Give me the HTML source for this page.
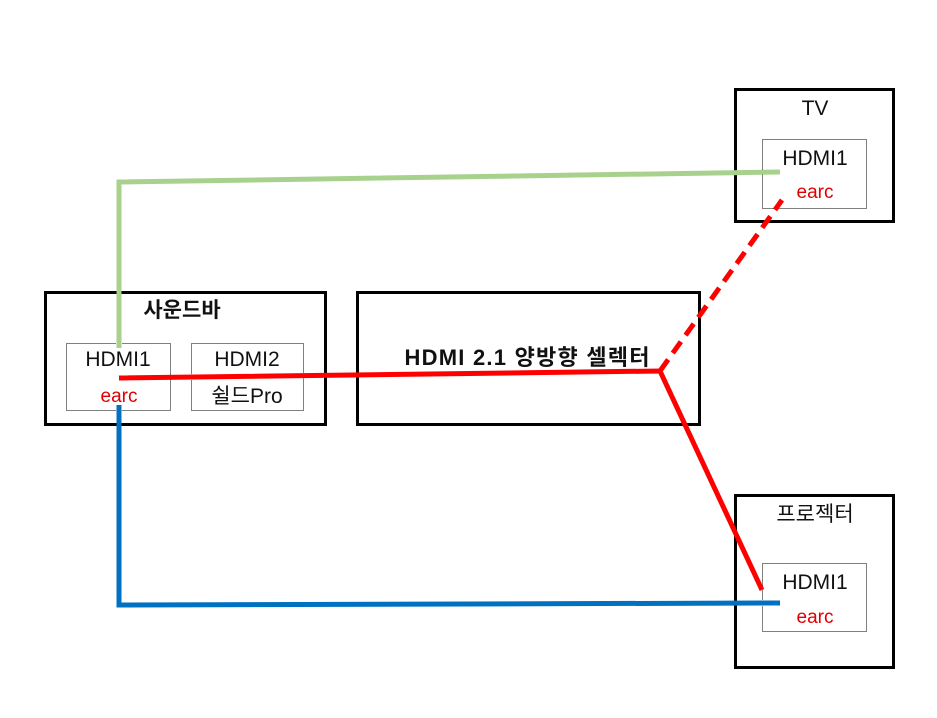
<!DOCTYPE html>
<html><head><meta charset="utf-8"><style>
html,body{margin:0;padding:0;background:#fff;}
svg{display:block;}
text{font-family:"Liberation Sans","Noto Sans CJK KR",sans-serif;}
</style></head><body>
<svg width="937" height="718" viewBox="0 0 937 718" xmlns="http://www.w3.org/2000/svg">
<rect width="937" height="718" fill="#fff"/>
<g fill="none" stroke="#000" stroke-width="3">
<rect x="45.5" y="292.5" width="280" height="132"/>
<rect x="357.5" y="292.5" width="342" height="132"/>
<rect x="735.5" y="89.5" width="158" height="132"/>
<rect x="735.5" y="495.5" width="158" height="172"/>
</g>
<g fill="none" stroke="#000" stroke-width="1" stroke-dasharray="1,1">
<rect x="66.5" y="343.5" width="104" height="67"/>
<rect x="191.5" y="343.5" width="112" height="67"/>
<rect x="762.5" y="139.5" width="104" height="69"/>
<rect x="762.5" y="563.5" width="104" height="68"/>
</g>
<g font-size="21" text-anchor="middle" fill="#111">
<text x="182" y="317" font-weight="bold">사운드바</text>
<text x="118" y="366">HDMI1</text>
<text x="247" y="366">HDMI2</text>
<text x="247" y="403">쉴드Pro</text>
<text x="527" y="365" font-weight="bold" font-size="22" textLength="245">HDMI 2.1 양방향 셀렉터</text>
<text x="815" y="115">TV</text>
<text x="815" y="165">HDMI1</text>
<text x="815" y="521">프로젝터</text>
<text x="815" y="589">HDMI1</text>
</g>
<g font-size="19" text-anchor="middle" fill="#e00000">
<text x="119" y="402">earc</text>
<text x="815" y="198">earc</text>
<text x="815" y="623">earc</text>
</g>
<polyline points="119,348 119,182 780,172" fill="none" stroke="#a9d18e" stroke-width="5"/>
<polyline points="119,405 119,605 780,603" fill="none" stroke="#0070c0" stroke-width="5"/>
<polyline points="119,378 660,371 762,590" fill="none" stroke="#ff0000" stroke-width="5"/>
<line x1="660" y1="371" x2="782" y2="200" stroke="#ff0000" stroke-width="5" stroke-dasharray="14,8"/>
</svg>
</body></html>
